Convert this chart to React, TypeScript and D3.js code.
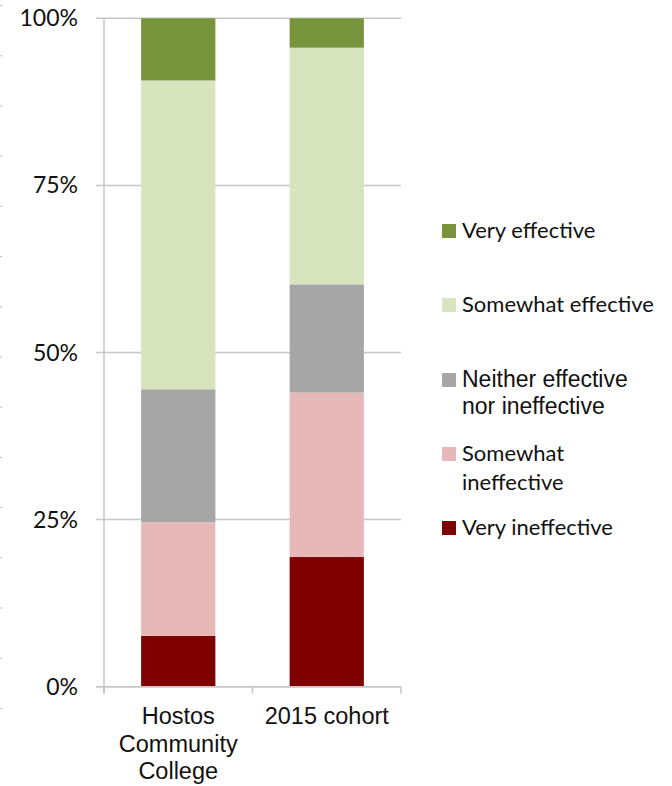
import React from "react";
import * as d3 from "d3";

const categories = ["Hostos Community College", "2015 cohort"];
const categoryLines = [["Hostos", "Community", "College"], ["2015 cohort"]];
const seriesNames = ["Very ineffective", "Somewhat ineffective", "Neither effective nor ineffective", "Somewhat effective", "Very effective"];
const hostosValues = [7.6, 17.0, 19.9, 46.2, 9.3];
const cohortValues = [19.4, 24.6, 16.2, 35.4, 4.4];
const seriesColors = ["#7f0000", "#e6b9b8", "#a6a6a6", "#d7e4bd", "#77933c"];
const yTicks = [0, 25, 50, 75, 100];

const legendItems = [
  { name: "Very effective", lines: ["Very effective"], color: "#77933c", font: "Lato" },
  { name: "Somewhat effective", lines: ["Somewhat effective"], color: "#d7e4bd", font: "Lato" },
  { name: "Neither effective nor ineffective", lines: ["Neither effective", "nor ineffective"], color: "#a6a6a6", font: "Liberation Sans" },
  { name: "Somewhat ineffective", lines: ["Somewhat", "ineffective"], color: "#e6b9b8", font: "Lato" },
  { name: "Very ineffective", lines: ["Very ineffective"], color: "#7f0000", font: "Lato" },
];

export default function App() {
  const W = 672, H = 786;
  const left = 104, right = 401, top = 18.3, bottom = 686.7;
  const y = d3.scaleLinear().domain([0, 100]).range([bottom, top]);
  const x = d3.scaleBand<string>().domain(categories).range([left, right]).paddingInner(0.5).paddingOuter(0.25);
  const step = x.step();
  const data = [hostosValues, cohortValues];
  const stackRows = categories.map((c, i) => {
    const row: any = { cat: c };
    seriesNames.forEach((s, j) => (row[s] = data[i][j]));
    return row;
  });
  const stacked = d3.stack().keys(seriesNames)(stackRows);

  const legendBaselines = [[238], [312], [387, 414], [461, 490], [535]];
  const dots = d3.range(0, 15).map((i) => 5 + i * 50.2);

  return (
    <svg width={W} height={H} style={{ position: "absolute", left: 0, top: 0, background: "#fff" }}>
      {dots.map((d, i) => (
        <rect key={i} x={0.5} y={d} width={1.2} height={1.2} fill="#999" />
      ))}
      {yTicks.map((t) => (
        <g key={t}>
          <line x1={96} x2={right} y1={y(t)} y2={y(t)} stroke="#c6c6c6" strokeWidth={1.5} />
          <text x={78} y={y(t) + 8} textAnchor="end" fontFamily="Lato" fontSize={23} fill="#111">
            {t}%
          </text>
        </g>
      ))}
      {stacked.map((layer, j) =>
        layer.map((seg, i) => (
          <rect
            key={j + "-" + i}
            x={x(categories[i])}
            width={x.bandwidth()}
            y={y(seg[1])}
            height={y(seg[0]) - y(seg[1])}
            fill={seriesColors[j]}
          />
        ))
      )}
      <line x1={left} x2={left} y1={top} y2={bottom + 7} stroke="#c6c6c6" strokeWidth={1.5} />
      <line x1={96} x2={right} y1={bottom} y2={bottom} stroke="#c6c6c6" strokeWidth={1.5} />
      {d3.range(0, categories.length + 1).map((i) => (
        <line key={i} x1={left + i * step} x2={left + i * step} y1={bottom} y2={bottom + 7} stroke="#c6c6c6" strokeWidth={1.5} />
      ))}
      {categories.map((c, i) => (
        <text key={c} textAnchor="middle" fontFamily="Liberation Sans" fontSize={23.5} fill="#111">
          {categoryLines[i].map((ln, k) => (
            <tspan key={k} x={(x(c) as number) + x.bandwidth() / 2} y={724 + k * 27.5}>
              {ln}
            </tspan>
          ))}
        </text>
      ))}
      {legendItems.map((it, i) => (
        <g key={it.name}>
          <rect x={442} y={legendBaselines[i][0] - 14} width={14} height={14} fill={it.color} />
          <text fontFamily={it.font} fontSize={it.font === "Lato" ? 22 : 23} fill="#111">
            {it.lines.map((ln, k) => (
              <tspan key={k} x={462} y={legendBaselines[i][k]}>
                {ln}
              </tspan>
            ))}
          </text>
        </g>
      ))}
    </svg>
  );
}
